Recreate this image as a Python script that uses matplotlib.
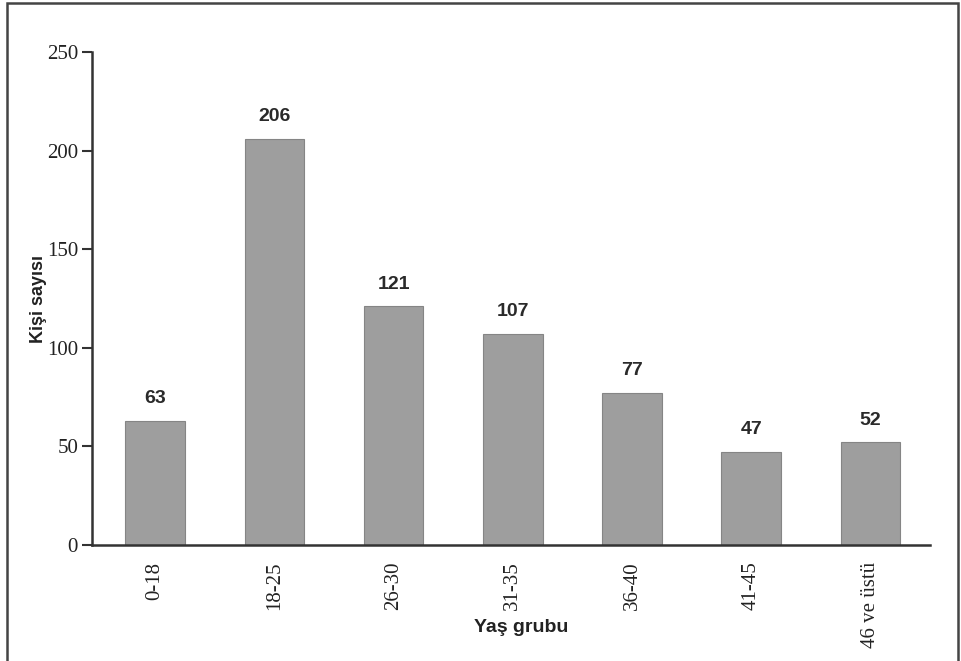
#!/usr/bin/env python3
# coding=utf-8

import matplotlib
matplotlib.use('Agg')
import matplotlib.pyplot as plt
from matplotlib.patches import Rectangle

# Yaş gruplarına göre kişi sayıları
yas_gruplari = ['0-18', '18-25', '26-30', '31-35', '36-40', '41-45', '46 ve üstü']
kisi_sayisi = [63, 206, 121, 107, 77, 47, 52]
y_ticks = [0, 50, 100, 150, 200, 250]

serif = ['Liberation Serif', 'DejaVu Serif']
sans = ['Liberation Sans', 'DejaVu Sans']

fig = plt.figure(figsize=(9.61, 6.61), dpi=100)
ax = fig.add_axes([0.0957, 0.1755, 0.872, 0.7458])

x = range(len(yas_gruplari))
ax.bar(x, kisi_sayisi, width=0.5, color='#9e9e9e', edgecolor='#858585', linewidth=0.8)

for i, v in enumerate(kisi_sayisi):
    ax.annotate(str(v), (i, v), xytext=(0, 10), textcoords='offset points',
                ha='center', va='bottom', fontsize=14, fontweight='bold',
                family=sans, color='#2a2a2a')

ax.set_xlim(-0.53, 6.5)
ax.set_ylim(0, 250)
ax.set_yticks(y_ticks)
ax.set_yticklabels([str(t) for t in y_ticks], family=serif, fontsize=15, color='#222222')
ax.set_xticks(list(x))
ax.set_xticklabels(yas_gruplari, rotation=90, family=serif, fontsize=15, color='#222222')
ax.tick_params(axis='x', length=0, pad=12)
ax.tick_params(axis='y', direction='out', length=7, width=1.5, color='#333333', pad=3)

for side in ('top', 'right'):
    ax.spines[side].set_visible(False)
for side in ('left', 'bottom'):
    ax.spines[side].set_linewidth(1.8)
    ax.spines[side].set_color('#333333')

ax.set_ylabel('Kişi sayısı', fontsize=13, fontweight='bold', family=sans,
              color='#222222', labelpad=0)
fig.text(0.542, 0.05, 'Yaş grubu', fontsize=14, fontweight='bold', family=sans,
         color='#222222', ha='center', va='center')

# çerçeve
fig.patches.append(Rectangle((0.007, -0.05), 0.990, 1.045, transform=fig.transFigure,
                             fill=False, edgecolor='#444444', linewidth=1.8))

fig.savefig('out.png', dpi=100)
